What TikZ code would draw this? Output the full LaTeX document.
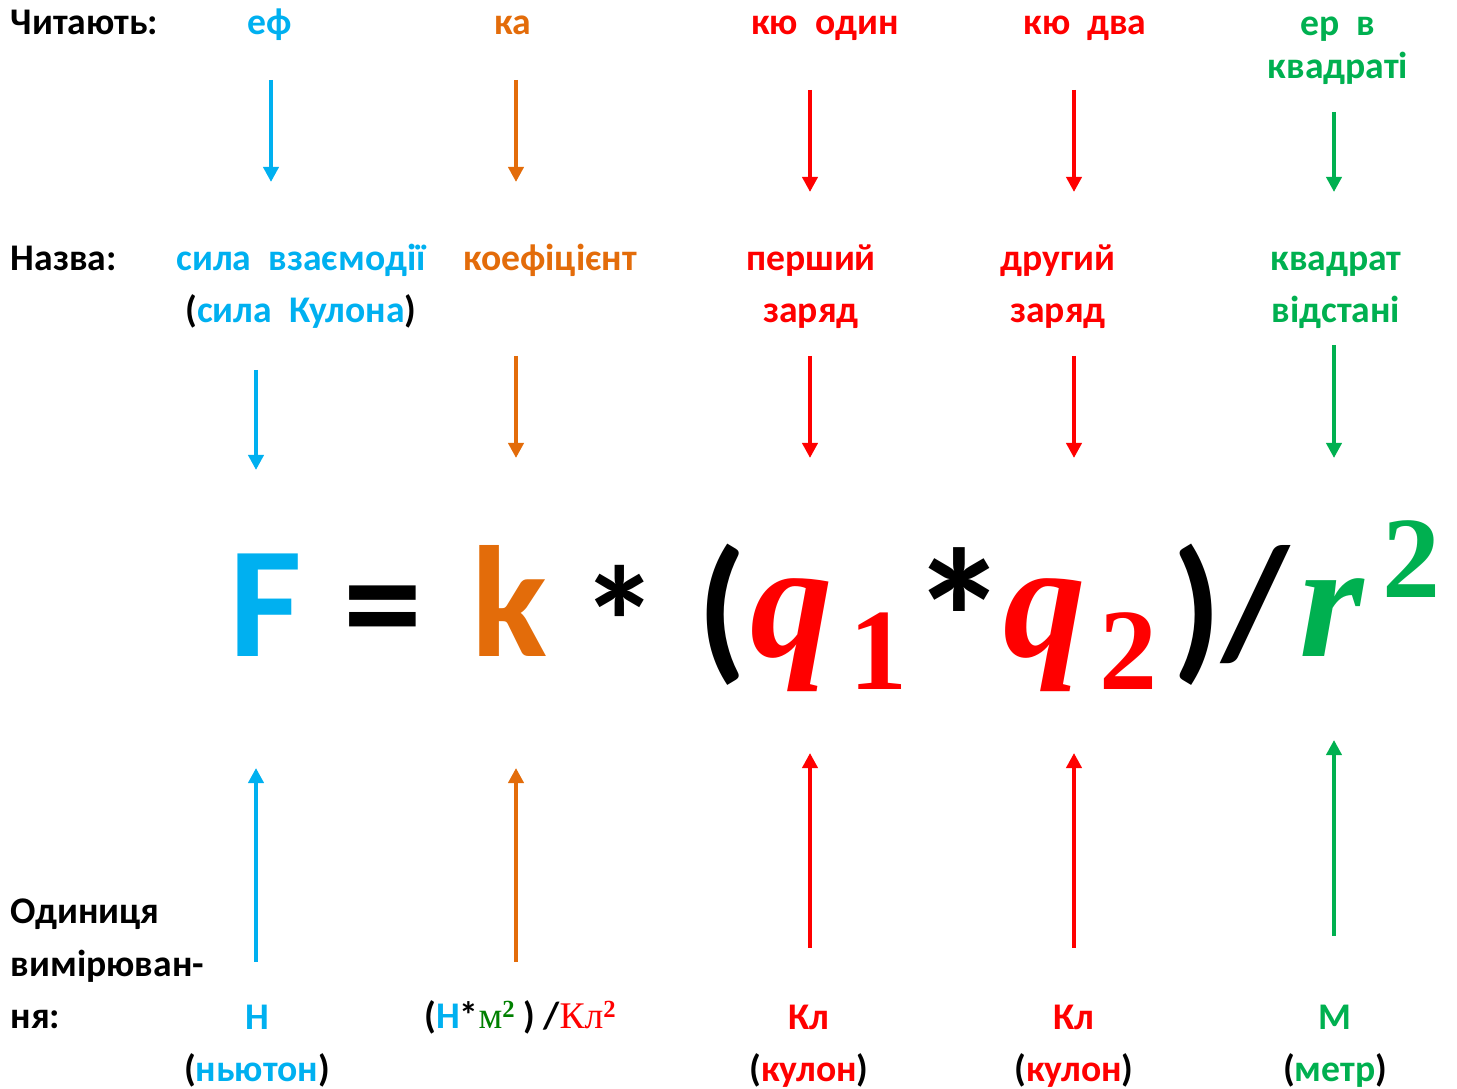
\documentclass[tikz,border=0pt]{standalone}
\usepackage{fontspec}
\setmainfont{Carlito}
\newfontfamily\cambria{Liberation Serif}
\usetikzlibrary{arrows.meta}
\definecolor{Sila}{HTML}{00B0F0}
\definecolor{Koef}{HTML}{E36C0A}
\definecolor{Zaryad}{HTML}{FF0000}
\definecolor{Vidst}{HTML}{00B050}
\definecolor{Metr}{HTML}{008000}
\newcommand{\kvad}{\raisebox{3.4pt}{\fontsize{7}{7}\selectfont\cambria\bfseries 2}}

\begin{document}
\begin{tikzpicture}[x=0.01cm, y=-0.01cm,
    lbl/.style={font=\fontsize{10.7}{15}\selectfont\bfseries, inner sep=0pt, align=center, anchor=base},
    big/.style={font=\fontsize{45}{45}\selectfont\bfseries, inner sep=0pt, anchor=base},
    sym/.style={font=\fontsize{47}{47}\selectfont\cambria\bfseries\itshape, inner sep=0pt, anchor=base},
    idx/.style={font=\fontsize{33}{33}\selectfont\cambria\bfseries, inner sep=0pt, anchor=base},
    arr/.style={-{Triangle[length=0.15cm, width=0.15cm]}, line width=1.1pt}
]
\useasboundingbox (0,0) rectangle (1457,1089);

% row titles (base = last line)
\node[lbl, anchor=base west] (chyt) at (10,35) {Читають:};
\node[lbl, anchor=base west] (nazva) at (10,271) {Назва:};
\node[lbl, anchor=base west, align=left] (odyn) at (10,1029) {Одиниця\\вимірюван-\\ня:};

% how it is read
\node[lbl, text=Sila] (ef) at (270,35) {еф};
\node[lbl, text=Koef] (ka) at (513,35) {ка};
\node[lbl, text=Zaryad] (kyu1) at (825,35) {кю~~один};
\node[lbl, text=Zaryad] (kyu2) at (1085,35) {кю~~два};
\node[lbl, text=Vidst, font=\fontsize{10.7}{12.5}\selectfont\bfseries] (er) at (1338,79) {ер~~в\\квадраті};

% names
\node[lbl, text=Sila] (nF) at (301,323) {сила~~взаємодії\\\textcolor{black}{(}сила~~Кулона\textcolor{black}{)}};
\node[lbl, text=Koef] (nk) at (550,271) {коефіцієнт};
\node[lbl, text=Zaryad] (nq1) at (811,323) {перший\\заряд};
\node[lbl, text=Zaryad] (nq2) at (1058,323) {другий\\заряд};
\node[lbl, text=Vidst] (nr) at (1336,323) {квадрат\\відстані};

% formula
\node[big, text=Sila] (F) at (266,657) {F};
\node[big] (eq) at (383,657) {=};
\node[big, text=Koef] (k) at (509,657) {k};
\node[big] (st1) at (620,679) {*};
\node[big] (lp) at (722,662) {(};
\node[sym, text=Zaryad] (q1) at (792,657) {q};
\node[idx, text=Zaryad] (i1) at (879,690) {1};
\node[big, font=\fontsize{56}{56}\selectfont\bfseries] (st2) at (960,689) {*};
\node[sym, text=Zaryad] (q2) at (1045,657) {q};
\node[idx, text=Zaryad] (i2) at (1129,690) {2};
\node[big] (rp) at (1197,662) {)};
\node[big] (sl) at (1255,657) {/};
\node[sym, text=Vidst] (r) at (1332,657) {r};
\node[idx, text=Vidst] (sq) at (1411,598) {2};

% units
\node[lbl, text=Sila] (uF) at (257,1082) {Н\\\textcolor{black}{(}ньютон\textcolor{black}{)}};
\node[lbl] (uk) at (520,1029) {(\textcolor{Sila}{Н}*\textcolor{Metr}{{\cambria\mdseries м}\kvad}~) /\textcolor{Zaryad}{{\cambria\mdseries Кл}\kvad}};
\node[lbl, text=Zaryad] (uq1) at (809,1082) {Кл\\\textcolor{black}{(}кулон\textcolor{black}{)}};
\node[lbl, text=Zaryad] (uq2) at (1074,1082) {Кл\\\textcolor{black}{(}кулон\textcolor{black}{)}};
\node[lbl, text=Vidst] (ur) at (1335,1082) {М\\\textcolor{black}{(}метр\textcolor{black}{)}};

% arrows
\foreach \n/\x/\ya/\yb/\c in {f1/271/80/182/Sila, f2/256/370/470/Sila, f3/256/962/768/Sila,
    k1/516/80/182/Koef, k2/516/356/458/Koef, k3/516/962/768/Koef,
    a1/810/90/192/Zaryad, a2/810/356/458/Zaryad, a3/810/948/753/Zaryad,
    b1/1074/90/192/Zaryad, b2/1074/356/458/Zaryad, b3/1074/948/753/Zaryad,
    r1/1334/112/192/Vidst, r2/1334/345/458/Vidst, r3/1334/936/740/Vidst} {
  \coordinate (\n s) at (\x,\ya);
  \coordinate (\n e) at (\x,\yb);
  \draw[arr, \c] (\n s) -- (\n e);
}

\end{tikzpicture}
\end{document}
